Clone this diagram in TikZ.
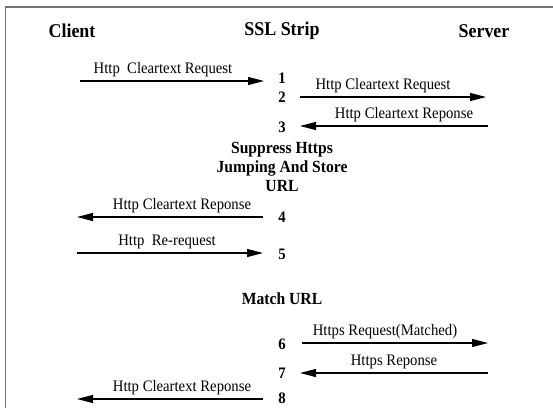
\documentclass[tikz,border=0pt]{standalone}
\usepackage{fontspec}
\setmainfont{Liberation Serif}[FakeStretch=0.92]
\usetikzlibrary{arrows.meta}
\begin{document}
\begin{tikzpicture}[x=1pt,y=-1pt,
  head/.style={font=\fontsize{19.5}{21}\selectfont\bfseries, inner sep=0pt},
  num/.style={font=\fontsize{16}{18}\selectfont\bfseries, inner sep=0pt},
  lbl/.style={font=\fontsize{16}{18}\selectfont, inner sep=0pt, above=4pt},
  msg/.style={line width=1.1pt, -{Triangle[length=16pt,width=8pt]}},
  frame/.style={line width=1.3pt, draw=black!55}]
\useasboundingbox (0,0) rectangle (553,408);
\draw[frame] (5.5,408) -- (5.5,7) -- (553,7);
% headings
\node[head] (client) at (72,31) {Client};
\node[head] (ssl) at (282,31) {SSL Strip};
\node[head] (server) at (484,31) {Server};
% step numbers
\node[num] (n1) at (282,78) {1};
\node[num] (n2) at (282,97) {2};
\node[num] (n3) at (282,127) {3};
\node[head, font=\fontsize{17}{19}\selectfont\bfseries, align=center] (supp) at (282,167) {Suppress Https\\Jumping And Store\\URL};
\node[num] (n4) at (282,217) {4};
\node[num] (n5) at (282,254) {5};
\node[head, font=\fontsize{17}{19}\selectfont\bfseries] (match) at (282,299) {Match URL};
\node[num] (n6) at (282,344) {6};
\node[num] (n7) at (282,373) {7};
\node[num] (n8) at (282,398) {8};
% lane end points
\coordinate (a1s) at (80,81);   \coordinate (a1e) at (264,81);
\coordinate (a2s) at (300,97);  \coordinate (a2e) at (486,97);
\coordinate (a3s) at (488,126); \coordinate (a3e) at (300,126);
\coordinate (a4s) at (263,217); \coordinate (a4e) at (77,217);
\coordinate (a5s) at (77,253);  \coordinate (a5e) at (263,253);
\coordinate (a6s) at (302,343); \coordinate (a6e) at (488,343);
\coordinate (a7s) at (488,373); \coordinate (a7e) at (300,373);
\coordinate (a8s) at (263,399); \coordinate (a8e) at (77,399);
% messages
\draw[msg] (a1s) -- node[lbl, xshift=-9pt] {Http\ \ Cleartext Request} (a1e);
\draw[msg] (a2s) -- node[lbl, xshift=-10pt] {Http Cleartext Request} (a2e);
\draw[msg] (a3s) -- node[lbl, xshift=10pt] {Http Cleartext Reponse} (a3e);
\draw[msg] (a4s) -- node[lbl, xshift=12pt] {Http Cleartext Reponse} (a4e);
\draw[msg] (a5s) -- node[lbl, xshift=-3pt] {Http\ \ Re-request} (a5e);
\draw[msg] (a6s) -- node[lbl, xshift=-10pt] {Https Request(Matched)} (a6e);
\draw[msg] (a7s) -- node[lbl, xshift=0pt] {Https Reponse} (a7e);
\draw[msg] (a8s) -- node[lbl, xshift=12pt] {Http Cleartext Reponse} (a8e);
\end{tikzpicture}
\end{document}
